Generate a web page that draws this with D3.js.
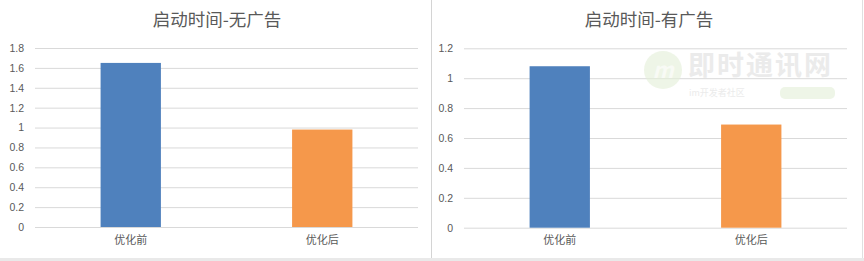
<!DOCTYPE html>
<html>
<head>
<meta charset="utf-8">
<script src="https://cdn.jsdelivr.net/npm/d3@7"></script>
<style>
  html, body { margin: 0; padding: 0; background: #fff; }
  svg { display: block; }
  text { font-family: "Noto Sans CJK SC", "Noto Sans", sans-serif; }
</style>
</head>
<body>
<div id="chart"></div>
<script>
// data
const categories = ['优化前', '优化后'];
const titles = ['启动时间-无广告', '启动时间-有广告'];
const noAdValues = [1.65, 0.98];
const withAdValues = [1.08, 0.69];
const noAdTicks = [0, 0.2, 0.4, 0.6, 0.8, 1, 1.2, 1.4, 1.6, 1.8];
const withAdTicks = [0, 0.2, 0.4, 0.6, 0.8, 1, 1.2];
const barColors = ['#4f81bd', '#f5984b'];

const width = 864, height = 261;

const svg = d3.select('#chart')
    .append('svg')
    .attr('width', width)
    .attr('height', height);

// page frame
svg.append('rect').attr('x', 0).attr('y', 258).attr('width', width).attr('height', 3).attr('fill', '#e9e9e9');
svg.append('line').attr('x1', 431.5).attr('x2', 431.5).attr('y1', 0).attr('y2', 258)
    .attr('stroke', '#d4d4d4');
svg.append('line').attr('x1', 862.5).attr('x2', 862.5).attr('y1', 0).attr('y2', 258)
    .attr('stroke', '#e0e0e0');

const panels = [
    { x0: 0, x1: 430, plotLeft: 35, plotRight: 418, top: 48, bottom: 227, max: 1.8, ticks: noAdTicks, values: noAdValues, title: titles[0] },
    { x0: 432, x1: 862, plotLeft: 464, plotRight: 847, top: 48.3, bottom: 227.7, max: 1.2, ticks: withAdTicks, values: withAdValues, title: titles[1] }
];

panels.forEach(p => {
    const g = svg.append('g');

    const y = d3.scaleLinear().domain([0, p.max]).range([p.bottom, p.top]);
    const x = d3.scaleBand()
        .domain(categories)
        .range([p.plotLeft, p.plotRight])
        .paddingInner(0.685)
        .paddingOuter(0.3425);

    // title
    g.append('text')
        .attr('x', (p.x0 + p.x1) / 2 + 2)
        .attr('y', 20)
        .attr('dy', '0.35em')
        .attr('text-anchor', 'middle')
        .attr('font-size', 17.5)
        .attr('fill', '#595959')
        .text(p.title);

    // gridlines + y labels
    const yAxis = d3.axisLeft(y)
        .tickValues(p.ticks)
        .tickSize(-(p.plotRight - p.plotLeft))
        .tickPadding(11)
        .tickFormat(d => String(d));

    const ax = g.append('g')
        .attr('transform', `translate(${p.plotLeft},0)`)
        .call(yAxis);
    ax.select('.domain').remove();
    ax.selectAll('.tick line').attr('stroke', '#d9d9d9').attr('stroke-width', 1);
    ax.selectAll('.tick text')
        .attr('fill', '#595959')
        .attr('font-size', 10.5)
        .style('font-family', '"Liberation Sans", "Noto Sans", sans-serif');

    // bars
    g.selectAll('rect.bar')
        .data(p.values)
        .join('rect')
        .attr('class', 'bar')
        .attr('x', (d, i) => x(categories[i]))
        .attr('width', x.bandwidth())
        .attr('y', d => y(d))
        .attr('height', d => y(0) - y(d))
        .attr('fill', (d, i) => barColors[i]);

    // x labels
    const xAxis = d3.axisBottom(x).tickSize(0).tickPadding(9);
    const bx = g.append('g')
        .attr('transform', `translate(0,${p.bottom})`)
        .call(xAxis);
    bx.select('.domain').remove();
    bx.selectAll('.tick text')
        .attr('fill', '#595959')
        .attr('font-size', 11)
        .style('font-family', '"Noto Sans CJK SC", sans-serif');
});

// faint site watermark on the right chart
const wm = svg.append('g').attr('opacity', 0.6);
wm.append('circle').attr('cx', 663).attr('cy', 70).attr('r', 19).attr('fill', '#e4f0d8');
wm.append('text').attr('x', 663).attr('y', 70).attr('dy', '0.35em')
    .attr('text-anchor', 'middle').attr('font-size', 22).attr('font-style', 'italic')
    .attr('font-weight', 'bold').attr('fill', '#f4f8ef').text('m');
wm.append('text').attr('x', 688).attr('y', 66).attr('dy', '0.35em')
    .attr('font-size', 27).attr('font-weight', 'bold').attr('fill', '#dedede')
    .attr('letter-spacing', 2).text('即时通讯网');
wm.append('text').attr('x', 689).attr('y', 93).attr('dy', '0.35em')
    .attr('font-size', 9).attr('fill', '#dedede').text('im开发者社区');
wm.append('rect').attr('x', 780).attr('y', 87).attr('width', 55).attr('height', 12).attr('rx', 5)
    .attr('fill', '#e4f0d8');
</script>
</body>
</html>
